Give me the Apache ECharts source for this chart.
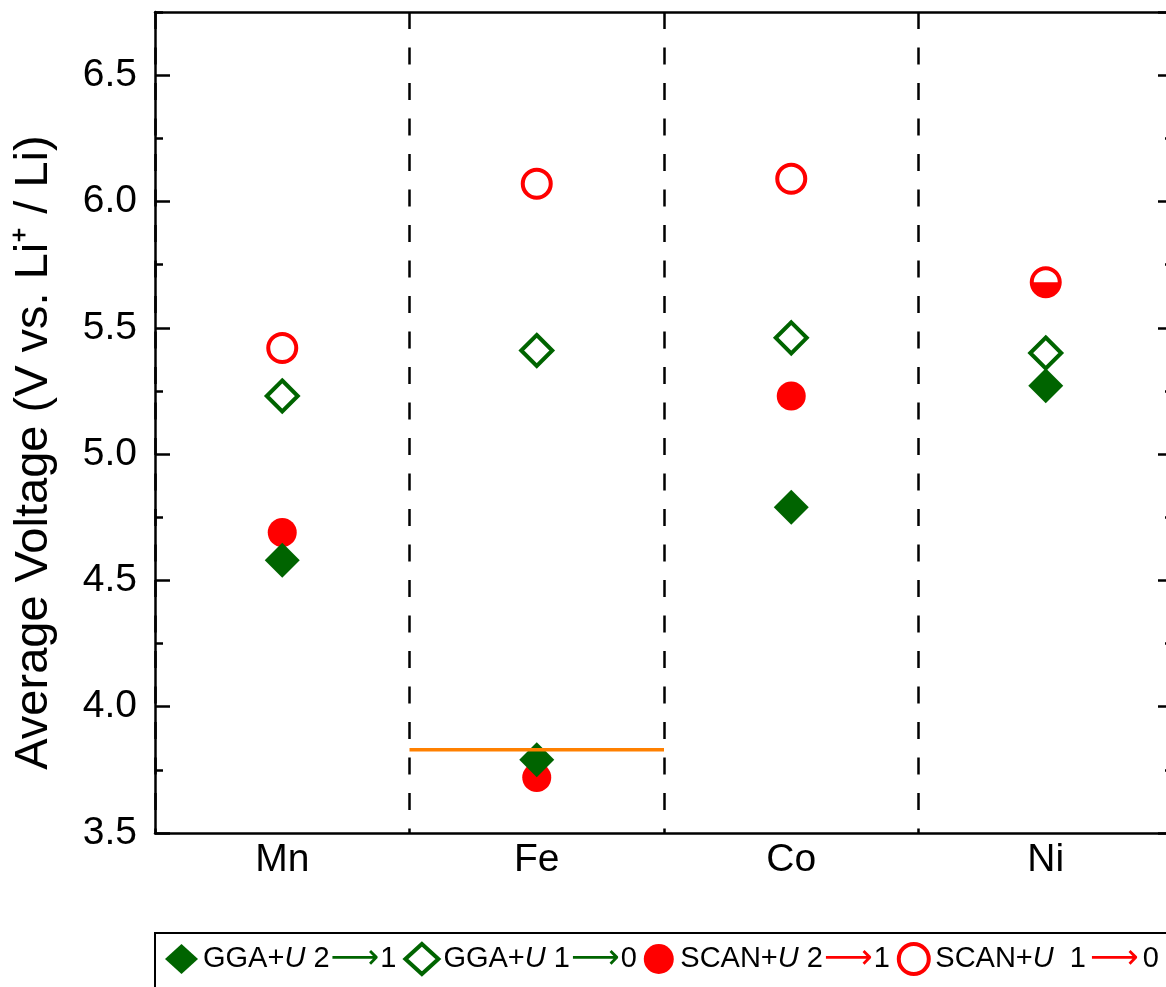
<!DOCTYPE html>
<html>
<head>
<meta charset="utf-8">
<title>Average Voltage</title>
<script src="https://cdn.jsdelivr.net/npm/echarts@6/dist/echarts.min.js"></script>
<style>
  html, body { margin: 0; padding: 0; overflow: hidden; background: #fff; }
  #chart { width: 1200px; height: 987px; }
</style>
</head>
<body>
<div id="chart"></div>
<script>
// data
const categories = ['Mn', 'Fe', 'Co', 'Ni'];
const ggaU21 = [4.58, 3.79, 4.79, 5.27];
const ggaU10 = [5.23, 5.41, 5.46, 5.40];
const scanU21 = [4.69, 3.72, 5.23, 5.68];
const scanU10 = [5.42, 6.07, 6.09, 5.68];
const feLineX = [1, 2];   // Fe band edges
const feLineY = 3.83;
const yMin = 3.5, yMax = 6.75, yStep = 0.5;

const seriesNames = ['GGA+U 2→1', 'GGA+U 1→0', 'SCAN+U 2→1', 'SCAN+U 1→0'];
const legendText = {
  'GGA+U 2→1': '{t|GGA+}{i|U}{t| 2}{ga|⟶}{t|1}',
  'GGA+U 1→0': '{t|GGA+}{i|U}{t| 1}{ga|⟶}{t|0}',
  'SCAN+U 2→1': '{t|SCAN+}{i|U}{t| 2}{ra|⟶}{t|1}',
  'SCAN+U 1→0': '{t|SCAN+}{i|U}{t|  1}{rb|⟶}{t|0}'
};

const green = '#006400';
const red = '#ff0000';
const font = 'Liberation Sans, Arial, sans-serif';
// bottom half disc (extra tiny segment keeps the full circle bbox)
const halfDisc = 'path://M0,14 A14,14 0 0,0 28,14 Z M14,0 L14.01,0 L14,0.01 Z';

const axisLineStyle = { color: '#000', width: 2.5 };

function yAxisOf(position, interval, tickLen, withLine, withLabel) {
  return {
    type: 'value',
    position: position,
    min: yMin,
    max: yMax,
    interval: interval,
    axisLine: { show: withLine, lineStyle: axisLineStyle },
    axisTick: { show: true, inside: true, length: tickLen, lineStyle: axisLineStyle },
    axisLabel: withLabel ? {
      show: true, fontSize: 39, color: '#000', fontFamily: font, margin: 18,
      showMaxLabel: false,
      formatter: v => v.toFixed(1)
    } : { show: false },
    splitLine: { show: false }
  };
}

const leftMain = yAxisOf('left', yStep, 15, true, true);
leftMain.name = 'Average Voltage (V vs. Li⁺ / Li)';
leftMain.nameLocation = 'middle';
leftMain.nameGap = 97;
leftMain.nameTextStyle = { fontSize: 47, color: '#000', fontFamily: font, padding: [0, 60, 0, 0] };

const arrowStyle = (c, pad) => ({ fontSize: 34, lineHeight: 34, color: c, fontFamily: 'DejaVu Sans', padding: [0, pad, 0, pad] });

const option = {
  animation: false,
  backgroundColor: '#fff',
  grid: { left: 155, right: 27, top: 12, bottom: 154 },
  legend: {
    data: [
      { name: seriesNames[0] },
      { name: seriesNames[1], itemStyle: { color: '#fff', borderColor: green, borderWidth: 4 } },
      { name: seriesNames[2] },
      { name: seriesNames[3], itemStyle: { color: '#fff', borderColor: red, borderWidth: 4 } }
    ],
    left: 155,
    top: 933,
    orient: 'horizontal',
    itemWidth: 33,
    itemHeight: 30,
    itemGap: 7,
    padding: [9, 10, 40, 10],
    borderColor: '#000',
    borderWidth: 2,
    width: 1040,
    formatter: name => legendText[name],
    textStyle: {
      fontSize: 29,
      color: '#000',
      fontFamily: font,
      rich: {
        t: { fontSize: 29, lineHeight: 34, color: '#000', fontFamily: font },
        i: { fontSize: 29, lineHeight: 34, color: '#000', fontFamily: font, fontStyle: 'italic' },
        ga: arrowStyle(green, 1),
        ra: arrowStyle(red, 1),
        rb: arrowStyle(red, 4)
      }
    }
  },
  xAxis: [
    {
      type: 'category',
      data: categories,
      position: 'bottom',
      axisLine: { lineStyle: axisLineStyle },
      axisTick: { show: false },
      axisLabel: { fontSize: 39, color: '#000', fontFamily: font, margin: 8 },
      splitLine: { show: true, lineStyle: { color: '#000', width: 2.5, type: [17, 18.5] } }
    },
    {
      type: 'category',
      data: categories,
      position: 'top',
      axisLine: { lineStyle: axisLineStyle },
      axisTick: { show: false },
      axisLabel: { show: false }
    },
    { type: 'value', min: 0, max: categories.length, show: false }
  ],
  yAxis: [
    leftMain,
    yAxisOf('left', yStep / 2, 8, false, false),
    yAxisOf('right', yStep, 15, true, false),
    yAxisOf('right', yStep / 2, 8, false, false)
  ],
  series: [
    {
      name: seriesNames[0],
      type: 'scatter',
      data: ggaU21,
      symbol: 'diamond',
      symbolSize: 35,
      itemStyle: { color: green, opacity: 1 },
      z: 5
    },
    {
      name: seriesNames[1],
      type: 'scatter',
      data: ggaU10,
      symbol: 'diamond',
      symbolSize: 31,
      itemStyle: { color: '#fff', borderColor: green, borderWidth: 4, opacity: 1 },
      z: 4
    },
    {
      name: seriesNames[2],
      type: 'scatter',
      data: scanU21.map((v, i) => categories[i] === 'Ni'
        ? { value: v, symbol: halfDisc, symbolSize: 28 }
        : v),
      symbol: 'circle',
      symbolSize: 29,
      itemStyle: { color: red, opacity: 1 },
      z: 2
    },
    {
      name: seriesNames[3],
      type: 'scatter',
      data: scanU10,
      symbol: 'circle',
      symbolSize: 28,
      itemStyle: { color: 'rgba(255,255,255,0)', borderColor: red, borderWidth: 4, opacity: 1 },
      z: 3
    },
    {
      name: 'Fe reference',
      type: 'line',
      xAxisIndex: 2,
      yAxisIndex: 0,
      data: feLineX.map(x => [x, feLineY]),
      symbol: 'none',
      lineStyle: { color: '#ff8000', width: 3.5 },
      z: 10
    }
  ]
};

const myChart = echarts.init(document.getElementById('chart'));
myChart.setOption(option);
</script>
</body>
</html>
